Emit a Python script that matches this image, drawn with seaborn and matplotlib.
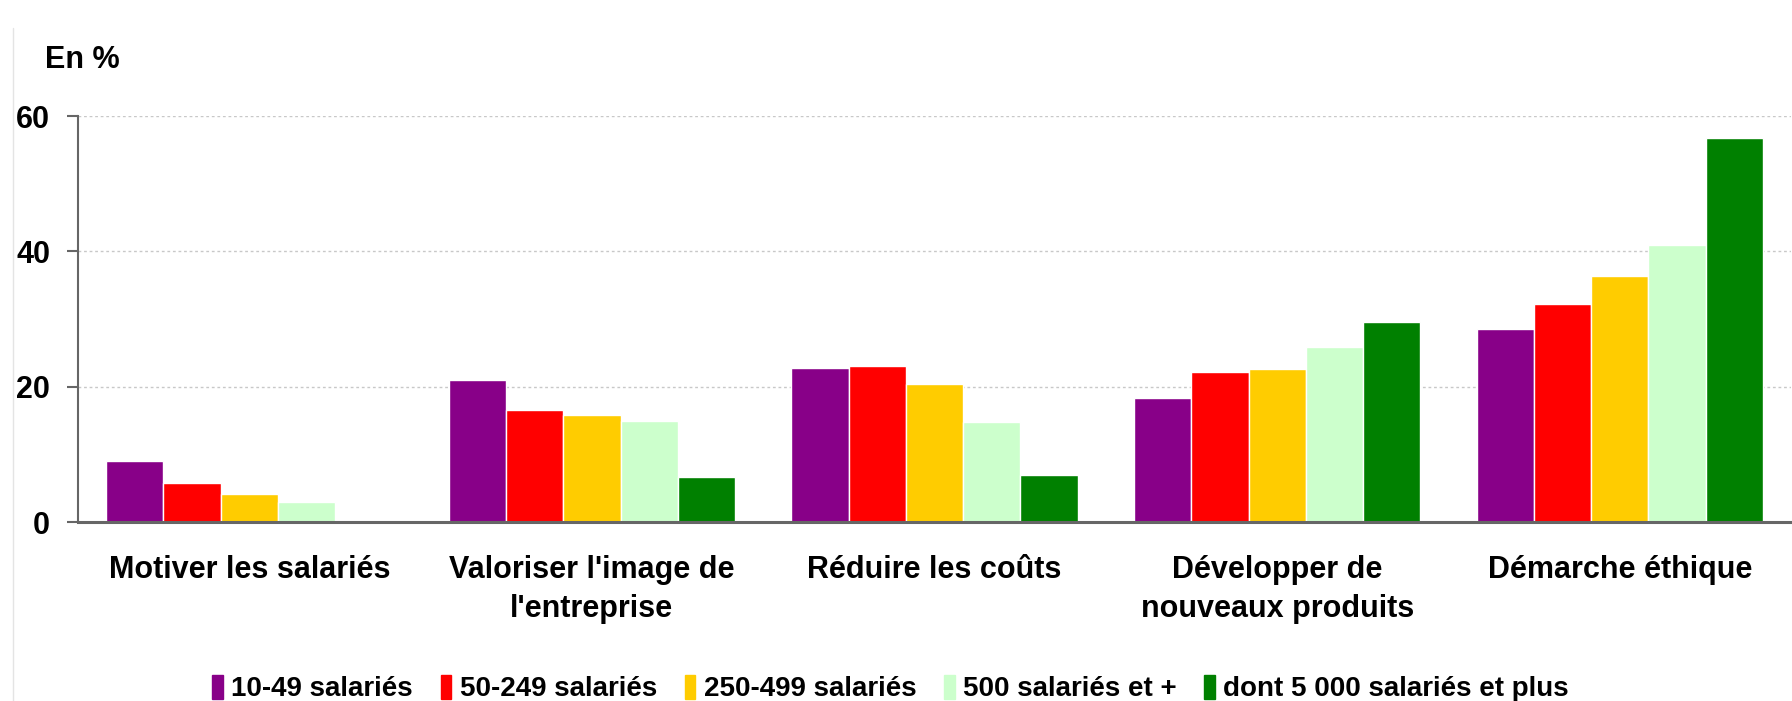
import pandas as pd
import numpy as np
import matplotlib
matplotlib.use('Agg')
import matplotlib.pyplot as plt
import seaborn as sns
from matplotlib.lines import Line2D

# data
categories = ["Motiver les salariés", "Valoriser l'image de\nl'entreprise",
              "Réduire les coûts", "Développer de\nnouveaux produits",
              "Démarche éthique"]
series = ["10-49 salariés", "50-249 salariés", "250-499 salariés",
          "500 salariés et +", "dont 5 000 salariés et plus"]
v_10_49 = [9.0, 21.0, 22.8, 18.4, 28.5]
v_50_249 = [5.8, 16.5, 23.1, 22.1, 32.2]
v_250_499 = [4.2, 15.8, 20.4, 22.6, 36.3]
v_500 = [2.9, 14.9, 14.8, 25.8, 41.0]
v_5000 = [0.0, 6.6, 7.0, 29.6, 56.7]
colors = ["#880088", "#ff0000", "#ffcc00", "#ccffcc", "#008000"]

values = [v_10_49, v_50_249, v_250_499, v_500, v_5000]
rows = []
for s, vals in zip(series, values):
    for c, v in zip(categories, vals):
        rows.append({"cat": c, "serie": s, "val": v})
df = pd.DataFrame(rows)

sns.set_style("white")
plt.rcParams['font.family'] = ['Liberation Sans', 'DejaVu Sans']
plt.rcParams['font.weight'] = 'bold'
plt.rcParams['text.color'] = 'black'
plt.rcParams['xtick.color'] = 'black'
plt.rcParams['ytick.color'] = 'black'

fig = plt.figure(figsize=(17.92, 7.01), dpi=100)
ax = fig.add_axes([0.0435, 0.2553, 0.956, 0.5792])

sns.barplot(data=df, x="cat", y="val", hue="serie", palette=colors,
            width=0.835, gap=0, saturation=1, ax=ax, legend=False,
            order=categories, hue_order=series)

ax.set_ylim(0, 60)
ax.set_xlim(-0.5, 4.5)
ax.set_yticks([0, 20, 40, 60])
ax.yaxis.grid(True, color="#c8c8c8", linestyle=(0, (2, 2)), linewidth=1)
ax.set_axisbelow(True)
ax.set_xlabel("")
ax.set_ylabel("")

for side in ["top", "right"]:
    ax.spines[side].set_visible(False)
ax.spines["left"].set_color("#666666")
ax.spines["left"].set_linewidth(1.5)
ax.spines["bottom"].set_color("#666666")
ax.spines["bottom"].set_linewidth(2.2)

ax.tick_params(axis="y", left=True, length=8, width=1.5, color="#666666",
               labelcolor="black", pad=12, labelsize=22)
ax.tick_params(axis="x", bottom=False, pad=20, labelsize=22,
               labelcolor="black")
for lab in ax.get_xticklabels() + ax.get_yticklabels():
    lab.set_fontweight("bold")
for lab in ax.get_xticklabels():
    lab.set_linespacing(1.4)
    lab.set_verticalalignment("top")

fig.text(0.025, 0.915, "En %", fontsize=22, fontweight="bold", va="center",
         color="black")

# thin frame line at the far left
fig.add_artist(Line2D([0.0075, 0.0075], [0, 0.96], color="#e4e4e4", lw=1))

handles = [plt.Rectangle((0, 0), 1, 1, color=c) for c in colors]
leg = fig.legend(handles, series, loc="center", bbox_to_anchor=(0.497, 0.018),
                 ncol=5, frameon=False, handlelength=0.38, handleheight=0.95,
                 handletextpad=0.3, columnspacing=1.0,
                 prop={"size": 20, "weight": "bold"})
for t in leg.get_texts():
    t.set_color("black")

fig.savefig("out.png", dpi=100)
